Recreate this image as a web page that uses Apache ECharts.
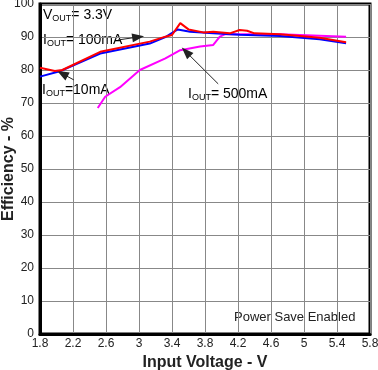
<!DOCTYPE html>
<html><head><meta charset="utf-8">
<script src="https://cdn.jsdelivr.net/npm/echarts@6/dist/echarts.min.js"></script>
<style>html,body{margin:0;padding:0;background:#fff}#c{width:378px;height:370px}</style>
</head><body><div id="c"></div>
<script>
// Data
const blueX = [1.80, 2.04, 2.53, 3.13, 3.32, 3.47, 3.62, 3.90, 4.22, 4.71, 5.19, 5.51];
const blueY = [78.0, 79.6, 85.0, 88.0, 90.0, 92.3, 91.6, 91.1, 90.7, 90.3, 89.3, 88.1];
const redX = [1.80, 1.98, 2.07, 2.53, 3.13, 3.32, 3.40, 3.50, 3.60, 3.78, 3.90, 4.10, 4.22, 4.31, 4.40, 4.71, 5.19, 5.51];
const redY = [80.7, 79.7, 80.0, 85.5, 88.6, 90.1, 90.6, 94.2, 92.3, 91.4, 91.6, 91.1, 92.1, 91.9, 91.1, 90.8, 89.8, 88.4];
const magX = [2.50, 2.59, 2.77, 3.01, 3.32, 3.50, 3.74, 3.90, 3.98, 4.04, 4.71, 5.51];
const magY = [68.5, 71.9, 74.8, 80.0, 83.5, 86.0, 87.1, 87.6, 90.1, 90.8, 90.8, 90.1];
const xTicks = {min: 1.8, max: 5.8, step: 0.4};
const yTicks = {min: 0, max: 100, step: 10};
// Annotation arrows in data coordinates [from, to]
const arrows = [
  [[2.745, 89.1], [2.99, 90.0]],
  [[2.21, 77.0], [2.07, 78.9]],
  [[3.96, 75.8], [3.57, 85.5]]
];

const zip = (xs, ys) => xs.map((x, i) => [x, ys[i]]);
const chart = echarts.init(document.getElementById('c'));
const FONT = 'Liberation Sans, Arial, sans-serif';
const sub = {fontSize: 9, fontFamily: FONT, color: '#222', verticalAlign: 'bottom', padding: [8, 0, 0, 0]};
const main = {fontSize: 14, fontFamily: FONT, color: '#222'};

chart.setOption({
  animation: false,
  grid: {left: 40, right: 8, top: 4, bottom: 36, containLabel: false, outerBoundsMode: 'none',
    show: true, borderColor: '#000', borderWidth: 3, backgroundColor: '#fff'},
  xAxis: {
    type: 'value', min: xTicks.min, max: xTicks.max, interval: xTicks.step,
    name: 'Input Voltage - V', nameLocation: 'middle', nameGap: 21, nameMoveOverlap: false,
    nameTextStyle: {fontSize: 16, fontWeight: 'bold', fontFamily: FONT, color: '#222'},
    axisLine: {show: true, lineStyle: {color: '#000', width: 3}},
    axisTick: {show: false},
    axisLabel: {fontSize: 12, fontFamily: FONT, color: '#222', margin: 4,
      formatter: v => String(parseFloat(v.toFixed(1)))},
    splitLine: {show: true, lineStyle: {color: '#888', width: 1}}
  },
  yAxis: {
    type: 'value', min: yTicks.min, max: yTicks.max, interval: yTicks.step,
    name: 'Efficiency - %', nameLocation: 'middle', nameGap: 23, nameMoveOverlap: false,
    nameTextStyle: {fontSize: 16, fontWeight: 'bold', fontFamily: FONT, color: '#222'},
    axisLine: {show: true, lineStyle: {color: '#000', width: 3}},
    axisTick: {show: false},
    axisLabel: {fontSize: 12, fontFamily: FONT, color: '#222', margin: 6},
    splitLine: {show: true, lineStyle: {color: '#888', width: 1}}
  },
  series: [
    {type: 'line', data: zip(magX, magY), showSymbol: false, lineStyle: {color: '#ff00ff', width: 2}, z: 3},
    {type: 'line', data: zip(blueX, blueY), showSymbol: false, lineStyle: {color: '#0000ff', width: 2}, z: 4},
    {type: 'line', data: zip(redX, redY), showSymbol: false, lineStyle: {color: '#ff0000', width: 2}, z: 5,
      markLine: {
        silent: true, symbol: ['none', 'triangle'], symbolSize: [9, 12],
        lineStyle: {color: '#222', width: 1, type: 'solid'},
        label: {show: false},
        data: arrows.map(a => [{coord: a[0]}, {coord: a[1]}])
      }}
  ],
  graphic: [
    {type: 'text', left: 43, top: 8, style: {text: '{m|V}{s|OUT}{m|= 3.3V}', rich: {m: main, s: sub}}},
    {type: 'text', left: 43, top: 33, style: {text: '{m|I}{s|OUT}{m|= 100mA}', rich: {m: main, s: sub}}},
    {type: 'text', left: 42, top: 83, style: {text: '{m|I}{s|OUT}{m|=10mA}', rich: {m: main, s: sub}}},
    {type: 'text', left: 188, top: 87, style: {text: '{m|I}{s|OUT}{m|= 500mA}', rich: {m: main, s: sub}}},
    {type: 'text', left: 234, top: 311, style: {text: 'Power Save Enabled', fontSize: 13, fontFamily: FONT, fill: '#222'}}
  ]
});
</script></body></html>
